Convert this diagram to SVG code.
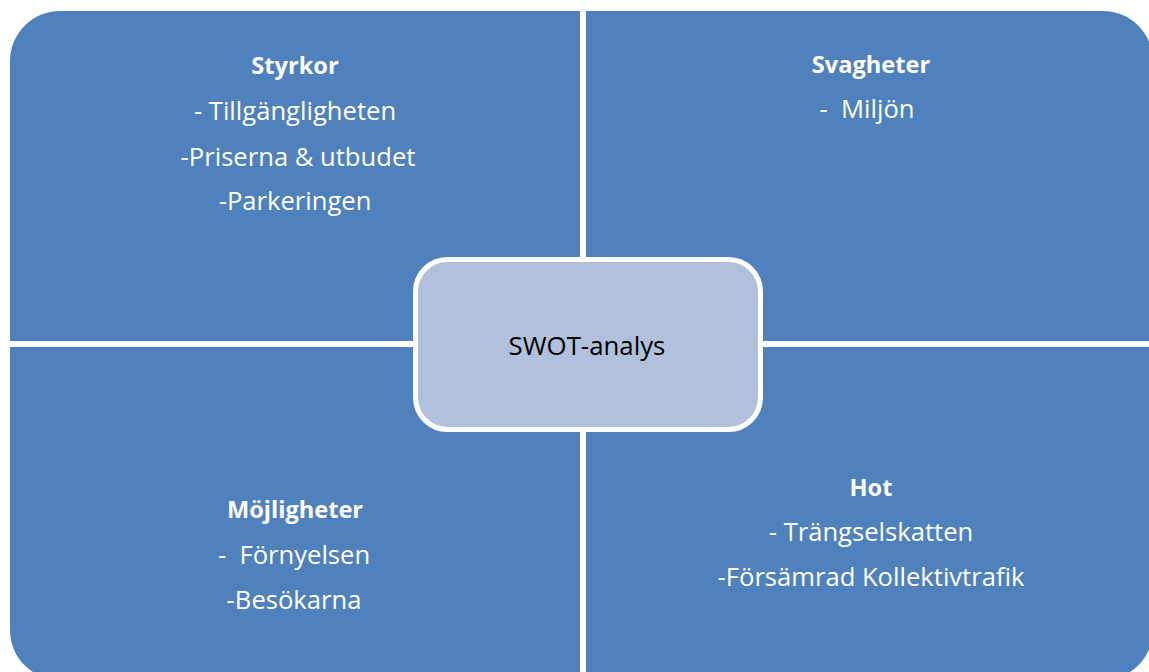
<svg xmlns="http://www.w3.org/2000/svg" width="1149" height="672" viewBox="0 0 1149 672">
  <style>
    .quad { fill: #4F81BD; }
    .lbl { font-family: "Open Sans", "Liberation Sans", sans-serif; font-size: 25.6px; fill: #FFFFFF; text-anchor: middle; }
    .head { font-weight: bold; font-size: 23.6px; }
    .core { fill: #B1C1DC; stroke: #FFFFFF; stroke-width: 5; }
    .coretxt { font-family: "Open Sans", "Liberation Sans", sans-serif; font-size: 25.8px; fill: #000000; text-anchor: middle; }
  </style>
  <rect width="1149" height="672" fill="#FFFFFF"/>

  <!-- Strengths: top-left quadrant -->
  <g id="styrkor">
    <path class="quad" d="M10,61 A50,50 0 0 1 60,11 L580,11 L580,341 L10,341 Z"/>
    <text class="lbl head" x="295" y="74">Styrkor</text>
    <text class="lbl" x="295" y="120">- Tillgängligheten</text>
    <text class="lbl" x="298" y="166">-Priserna &amp; utbudet</text>
    <text class="lbl" x="295" y="210">-Parkeringen</text>
  </g>

  <!-- Weaknesses: top-right quadrant -->
  <g id="svagheter">
    <path class="quad" d="M586,11 L1103,11 A50,50 0 0 1 1153,61 L1153,341 L586,341 Z"/>
    <text class="lbl head" x="871" y="73">Svagheter</text>
    <text class="lbl" x="867" y="118" xml:space="preserve">-  Miljön</text>
  </g>

  <!-- Opportunities: bottom-left quadrant -->
  <g id="mojligheter">
    <path class="quad" d="M10,347 L580,347 L580,680 L60,680 A50,50 0 0 1 10,630 Z"/>
    <text class="lbl head" x="295" y="518">Möjligheter</text>
    <text class="lbl" x="294" y="564" xml:space="preserve">-  Förnyelsen</text>
    <text class="lbl" x="294" y="609">-Besökarna</text>
  </g>

  <!-- Threats: bottom-right quadrant -->
  <g id="hot">
    <path class="quad" d="M586,347 L1153,347 L1153,630 A50,50 0 0 1 1103,680 L586,680 Z"/>
    <text class="lbl head" x="871" y="496">Hot</text>
    <text class="lbl" x="871" y="541">- Trängselskatten</text>
    <text class="lbl" x="871" y="586">-Försämrad Kollektivtrafik</text>
  </g>

  <!-- Central label -->
  <g id="swot">
    <rect class="core" x="415.5" y="259.5" width="345" height="170" rx="32" ry="32"/>
    <text class="coretxt" x="587" y="355">SWOT-analys</text>
  </g>
</svg>
